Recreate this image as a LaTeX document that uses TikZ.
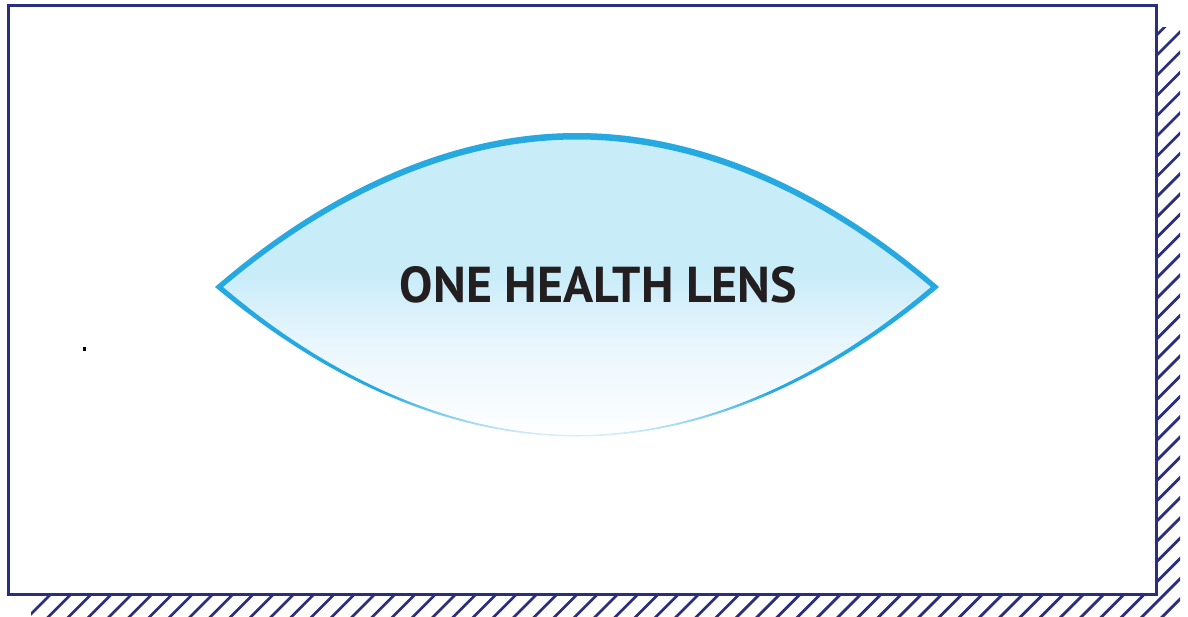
\documentclass[tikz,border=0pt]{standalone}
\usepackage{graphicx}
\usepackage{fontspec}
\newfontfamily\lensfont{PT Sans}
\definecolor{navy}{RGB}{43,46,127}
\definecolor{lensblue}{RGB}{38,169,224}
\definecolor{lensbg}{RGB}{201,236,249}
\definecolor{lensmid}{RGB}{232,246,253}
\definecolor{lensfade}{RGB}{225,243,251}
\definecolor{textdark}{RGB}{35,31,32}
\begin{document}
\begin{tikzpicture}[x=1pt,y=-1pt,
  hatchline/.style={draw=navy, line width=2.8pt},
  framebox/.style={draw=navy, line width=3pt, fill=white},
  titletext/.style={inner sep=0pt, anchor=base, text=textdark}]
\useasboundingbox (0,0) rectangle (1188,616);
% hatched shadow
\begin{scope}
  \clip (31,27) rectangle (1180,620);
  \foreach \k in {-30,...,60} {
    \pgfmathsetmacro\c{645+\k*20.25}
    \draw[hatchline] (\c-700,700) -- (\c+100,-100);
  }
\end{scope}
% frame
\draw[framebox] (8,5) rectangle (1156,594.5);
% lens fill
\begin{scope}
  \clip (215,287) parabola bend (577,133) (939,287) parabola bend (577,437) (215,287) -- cycle;
  \fill[lensbg] (200,120) rectangle (950,275);
  \shade[top color=lensbg, bottom color=lensmid] (200,275) rectangle (950,340);
  \shade[top color=lensmid, bottom color=white] (200,340) rectangle (950,438);
\end{scope}
% lens outline
\begin{scope}[even odd rule]
  \clip
    (215,287) parabola bend (577,133) (939,287) parabola bend (577,436.5) (215,287) -- cycle
    (223,287) parabola bend (577,139.5) (931,287) parabola bend (577,435) (223,287) -- cycle;
  \fill[lensblue] (200,120) rectangle (950,392);
  \shade[top color=lensblue, bottom color=lensfade] (200,392) rectangle (950,438);
\end{scope}
% title
\node[titletext] (title) at (598.5,302) {\resizebox{397pt}{36pt}{\lensfont\bfseries ONE HEALTH LENS}};
% stray mark
\fill[black] (83,347) rectangle (85.5,350.5);
\end{tikzpicture}
\end{document}
